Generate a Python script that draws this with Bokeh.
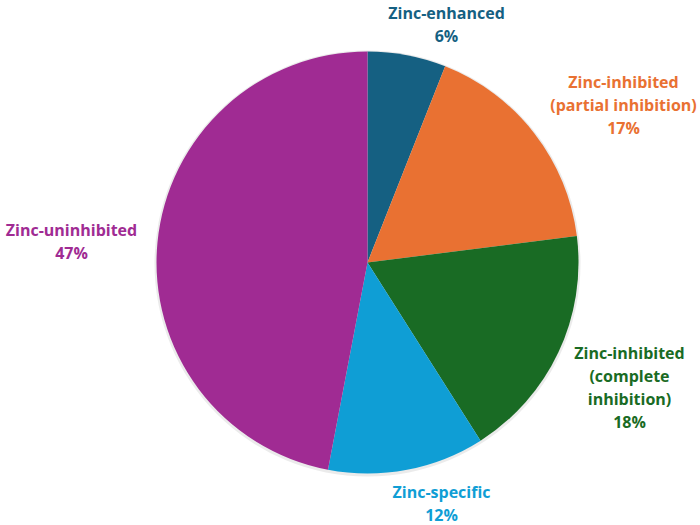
import numpy as np
from bokeh.plotting import figure
from bokeh.models import ColumnDataSource, Range1d
from bokeh.core.properties import value
from bokeh.embed import file_html
from bokeh.resources import INLINE

# Data
categories = ["Zinc-enhanced", "Zinc-inhibited\n(partial inhibition)", "Zinc-inhibited\n(complete\ninhibition)",
              "Zinc-specific", "Zinc-uninhibited"]
percents = [6, 17, 18, 12, 47]
colors = ["#156082", "#E97132", "#196B24", "#0F9ED5", "#A02B93"]

# Layout (pixel-like coordinates, y measured from top)
W, H = 700, 525
cx, cy, r = 367, 262, 211
label_x = [446, 623, 629, 441, 71]
label_y0 = [12, 81, 352, 491, 229]
line_step = 23

frac = np.array(percents, dtype=float) / sum(percents)
cum = np.concatenate([[0.0], np.cumsum(frac)])
start = np.pi / 2 - 2 * np.pi * cum[:-1]
end = np.pi / 2 - 2 * np.pi * cum[1:]

src = ColumnDataSource(dict(start=start, end=end, color=colors))

p = figure(width=W, height=H, output_backend="svg", toolbar_location=None,
           x_range=Range1d(0, W), y_range=Range1d(0, H), min_border=0)
p.axis.visible = False
p.grid.visible = False
p.outline_line_color = None

# faint shadow
p.circle(x=[cx], y=[H - cy - 1], radius=r + 2, fill_color="#dddddd", line_color=None, fill_alpha=0.6)
p.wedge(x=cx, y=H - cy, radius=r, start_angle="start", end_angle="end", direction="clock",
        fill_color="color", line_color=None, source=src)

xs, ys, texts, tcolors = [], [], [], []
for c, v, col, lx, ly in zip(categories, percents, colors, label_x, label_y0):
    lines = c.split("\n") + [f"{v}%"]
    for i, ln in enumerate(lines):
        xs.append(lx)
        ys.append(H - (ly + i * line_step))
        texts.append(ln)
        tcolors.append(col)

tsrc = ColumnDataSource(dict(x=xs, y=ys, text=texts, color=tcolors))
p.text(x="x", y="y", text="text", text_color="color", source=tsrc,
       text_font=value("Open Sans"), text_font_style="bold", text_font_size="16px",
       text_align="center", text_baseline="middle")

open("out.html", "w").write(file_html(p, INLINE))
